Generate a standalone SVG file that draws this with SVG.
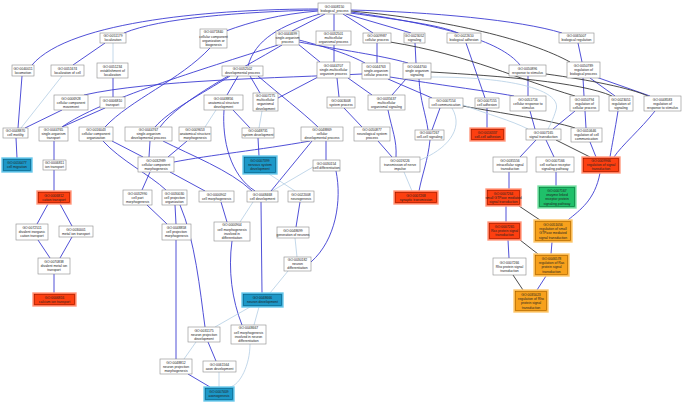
<svg xmlns="http://www.w3.org/2000/svg" width="685" height="403" viewBox="0 0 685 403">
<style>
.n rect{fill:#fff;stroke:#8a8a8a;stroke-width:0.6}
.rd rect{fill:#fd3f10;stroke:#ff9a80;stroke-width:1.4}
.bl rect{fill:#1c98c8;stroke:#6cc8ea;stroke-width:1.4}
.or rect{fill:#f7a11c;stroke:#fcc870;stroke-width:1.4}
.gr rect{fill:#1fc06a;stroke:#7fe0a8;stroke-width:1.4}
rect.in{fill:none !important;stroke-width:0.5 !important}
.rd rect.in{stroke:#8c1800 !important}
.bl rect.in{stroke:#0c5a7a !important}
.or rect.in{stroke:#9a5a00 !important}
.gr rect.in{stroke:#0a6a34 !important}
text{font-family:"Liberation Sans",Arial,sans-serif;font-size:3.4px;fill:#222;text-anchor:middle}
#connectors path{fill:none}
.b{stroke:#3c3cd2;stroke-width:0.9}
.k{stroke:#2c2c2c;stroke-width:0.85}
.l{stroke:#b4cee4;stroke-width:0.8}
</style>
<rect width="685" height="403" fill="#fff"/>
<g id="connectors">
<path class="b" d="M318,9 C220,9 70,20 32,65"/>
<path class="b" d="M318,10 C240,12 160,18 124,33"/>
<path class="b" d="M318,11 C280,14 250,22 226,31"/>
<path class="b" d="M325,14 L292,31"/>
<path class="b" d="M334,14 L334,31"/>
<path class="b" d="M343,14 L373,33"/>
<path class="b" d="M346,14 L411,33"/>
<path class="b" d="M350,13 C400,20 440,25 458,33"/>
<path class="b" d="M351,10 C430,12 520,20 562,33"/>
<path class="b" d="M320,14 C280,25 255,40 248,66"/>
<path class="b" d="M351,12 C440,25 500,40 520,65"/>
<path class="k" d="M351,11 C450,20 530,40 570,62"/>
<path class="b" d="M105,43 L73,65"/>
<path class="l" d="M113,43 L113,63"/>
<path class="b" d="M113,78 L113,97"/>
<path class="b" d="M22,76 L18,128"/>
<path class="l" d="M62,76 L21,128"/>
<path class="b" d="M62,110 L25,128"/>
<path class="b" d="M105,108 L62,127"/>
<path class="b" d="M362,74 C280,78 150,80 84,95"/>
<path class="b" d="M210,48 C180,80 130,100 105,127"/>
<path class="b" d="M278,45 C200,70 100,100 62,127"/>
<path class="b" d="M282,45 C240,70 180,100 160,127"/>
<path class="b" d="M230,76 C200,95 170,110 155,127"/>
<path class="b" d="M238,76 L227,95"/>
<path class="b" d="M250,76 L260,93"/>
<path class="b" d="M258,76 C280,95 300,110 318,127"/>
<path class="b" d="M320,76 L278,98"/>
<path class="b" d="M337,78 L339,97"/>
<path class="b" d="M348,78 L372,95"/>
<path class="l" d="M216,110 L205,127"/>
<path class="b" d="M233,110 L250,128"/>
<path class="b" d="M224,110 C222,140 230,175 255,191"/>
<path class="l" d="M262,111 L259,128"/>
<path class="b" d="M258,138 L259,156"/>
<path class="b" d="M298,44 L320,62"/>
<path class="b" d="M299,40 C330,48 350,55 365,63"/>
<path class="b" d="M299,42 C340,50 380,55 408,63"/>
<path class="b" d="M334,45 L334,62"/>
<path class="b" d="M377,43 L377,63"/>
<path class="b" d="M415,43 L416,63"/>
<path class="b" d="M466,43 L485,98"/>
<path class="b" d="M578,43 L582,62"/>
<path class="b" d="M388,79 L432,98"/>
<path class="b" d="M390,77 C440,85 480,90 514,96"/>
<path class="b" d="M406,79 L392,95"/>
<path class="b" d="M419,79 C420,100 426,115 428,130"/>
<path class="b" d="M440,108 L432,130"/>
<path class="b" d="M487,108 L487,128"/>
<path class="b" d="M528,76 L528,96"/>
<path class="b" d="M583,78 L584,96"/>
<path class="b" d="M590,78 L615,96"/>
<path class="b" d="M596,77 L650,96"/>
<path class="b" d="M344,108 L362,127"/>
<path class="b" d="M388,110 C392,130 397,140 396,157"/>
<path class="b" d="M378,141 L392,157"/>
<path class="b" d="M430,140 C428,160 422,175 419,191"/>
<path class="l" d="M404,172 L412,191"/>
<path class="b" d="M530,111 L535,129"/>
<path class="b" d="M575,111 L553,129"/>
<path class="b" d="M585,111 L586,128"/>
<path class="b" d="M618,111 C615,130 612,145 610,157"/>
<path class="b" d="M655,111 C640,130 622,145 614,157"/>
<path class="b" d="M590,142 L596,157"/>
<path class="b" d="M536,140 L520,157"/>
<path class="b" d="M546,140 L554,157"/>
<path class="k" d="M556,140 L590,157"/>
<path class="b" d="M509,172 L509,189"/>
<path class="b" d="M556,172 L556,186"/>
<path class="b" d="M600,173 C595,200 580,210 568,220"/>
<path class="k" d="M519,206 L540,220"/>
<path class="b" d="M506,206 L506,222"/>
<path class="b" d="M552,242 L551,254"/>
<path class="k" d="M520,240 L538,254"/>
<path class="b" d="M508,240 L509,258"/>
<path class="b" d="M546,276 L537,290"/>
<path class="k" d="M513,275 L523,290"/>
<path class="k" d="M390,42 C470,55 520,80 575,96"/>
<path class="k" d="M431,72 C500,76 580,82 612,96"/>
<path class="k" d="M546,74 C590,80 630,88 648,96"/>
<path class="k" d="M463,106 C500,113 550,120 575,128"/>
<path class="l" d="M452,108 C465,130 445,150 420,160"/>
<path class="l" d="M431,77 C520,77 562,92 556,110 C553,120 550,125 548,129"/>
<path class="l" d="M463,105 C490,115 510,120 528,129"/>
<path class="b" d="M16,138 L17,158"/>
<path class="b" d="M54,141 L54,160"/>
<path class="b" d="M54,170 L54,191"/>
<path class="b" d="M48,204 L37,224"/>
<path class="b" d="M60,204 L72,226"/>
<path class="b" d="M38,240 L50,258"/>
<path class="b" d="M72,237 L60,258"/>
<path class="b" d="M54,274 L54,293"/>
<path class="b" d="M112,141 L143,157"/>
<path class="b" d="M103,141 C120,160 150,175 166,190"/>
<path class="b" d="M150,141 L149,157"/>
<path class="b" d="M163,141 C190,155 230,170 252,191"/>
<path class="b" d="M187,141 L168,157"/>
<path class="b" d="M310,141 C260,150 210,155 174,162"/>
<path class="b" d="M150,172 L142,190"/>
<path class="b" d="M170,172 L205,191"/>
<path class="b" d="M147,205 L167,224"/>
<path class="b" d="M175,205 L176,224"/>
<path class="b" d="M180,205 C195,240 200,290 205,327"/>
<path class="b" d="M221,202 L227,222"/>
<path class="l" d="M253,202 L240,222"/>
<path class="b" d="M312,141 L271,191"/>
<path class="b" d="M326,141 L326,160"/>
<path class="l" d="M313,167 L272,191"/>
<path class="l" d="M269,174 L295,191"/>
<path class="b" d="M336,171 C342,200 336,240 311,262"/>
<path class="b" d="M300,202 L296,227"/>
<path class="l" d="M295,238 L297,257"/>
<path class="b" d="M261,202 L262,293"/>
<path class="l" d="M288,271 L270,293"/>
<path class="b" d="M232,241 C228,270 232,300 242,325"/>
<path class="b" d="M176,240 L176,359"/>
<path class="l" d="M250,307 L215,327"/>
<path class="l" d="M259,307 L254,325"/>
<path class="b" d="M208,342 L216,361"/>
<path class="l" d="M196,342 L184,359"/>
<path class="l" d="M250,344 C250,365 240,385 230,387"/>
<path class="l" d="M219,372 L219,387"/>
<path class="b" d="M188,374 L210,387"/>
</g>
<g id="GO0008150" class="n"><rect x="318" y="3" width="33" height="11"/><text x="334.5" y="7.6">GO:0008150</text><text x="334.5" y="11.8">biological_process</text></g>
<g id="GO0051179" class="n"><rect x="100" y="33" width="26" height="10"/><text x="113" y="37.1">GO:0051179</text><text x="113" y="41.3">localization</text></g>
<g id="GO0071840" class="n"><rect x="200" y="29" width="27" height="19"/><text x="213.5" y="33.4">GO:0071840</text><text x="213.5" y="37.6">cellular component</text><text x="213.5" y="41.8">organization or</text><text x="213.5" y="46">biogenesis</text></g>
<g id="GO0044699" class="n"><rect x="276" y="31" width="23" height="14"/><text x="287.5" y="35">GO:0044699</text><text x="287.5" y="39.2">single-organism</text><text x="287.5" y="43.4">process</text></g>
<g id="GO0032501" class="n"><rect x="316" y="31" width="35" height="14"/><text x="333.5" y="35">GO:0032501</text><text x="333.5" y="39.2">multicellular</text><text x="333.5" y="43.4">organismal process</text></g>
<g id="GO0009987" class="n"><rect x="363" y="33" width="28" height="10"/><text x="377" y="37.1">GO:0009987</text><text x="377" y="41.3">cellular process</text></g>
<g id="GO0023052" class="n"><rect x="404" y="33" width="21" height="10"/><text x="414.5" y="37.1">GO:0023052</text><text x="414.5" y="41.3">signaling</text></g>
<g id="GO0022610" class="n"><rect x="447" y="33" width="34" height="10"/><text x="464" y="37.1">GO:0022610</text><text x="464" y="41.3">biological adhesion</text></g>
<g id="GO0065007" class="n"><rect x="559" y="33" width="35" height="10"/><text x="576.5" y="37.1">GO:0065007</text><text x="576.5" y="41.3">biological regulation</text></g>
<g id="GO0040011" class="n"><rect x="12" y="65" width="22" height="11"/><text x="23" y="69.6">GO:0040011</text><text x="23" y="73.8">locomotion</text></g>
<g id="GO0051674" class="n"><rect x="51" y="65" width="33" height="11"/><text x="67.5" y="69.6">GO:0051674</text><text x="67.5" y="73.8">localization of cell</text></g>
<g id="GO0051234" class="n"><rect x="97" y="63" width="31" height="15"/><text x="112.5" y="67.5">GO:0051234</text><text x="112.5" y="71.7">establishment of</text><text x="112.5" y="75.9">localization</text></g>
<g id="GO0032502" class="n"><rect x="222" y="66" width="41" height="10"/><text x="242.5" y="70.1">GO:0032502</text><text x="242.5" y="74.3">developmental process</text></g>
<g id="GO0044707" class="n"><rect x="317" y="62" width="33" height="16"/><text x="333.5" y="67">GO:0044707</text><text x="333.5" y="71.2">single-multicellular</text><text x="333.5" y="75.4">organism process</text></g>
<g id="GO0044763" class="n"><rect x="362" y="63" width="28" height="16"/><text x="376" y="68">GO:0044763</text><text x="376" y="72.2">single-organism</text><text x="376" y="76.4">cellular process</text></g>
<g id="GO0044700" class="n"><rect x="403" y="63" width="28" height="16"/><text x="417" y="68">GO:0044700</text><text x="417" y="72.2">single organism</text><text x="417" y="76.4">signaling</text></g>
<g id="GO0050896" class="n"><rect x="509" y="65" width="37" height="11"/><text x="527.5" y="69.6">GO:0050896</text><text x="527.5" y="73.8">response to stimulus</text></g>
<g id="GO0050789" class="n"><rect x="567" y="62" width="33" height="16"/><text x="583.5" y="67">GO:0050789</text><text x="583.5" y="71.2">regulation of</text><text x="583.5" y="75.4">biological process</text></g>
<g id="GO0006928" class="n"><rect x="54" y="95" width="34" height="15"/><text x="71" y="99.5">GO:0006928</text><text x="71" y="103.7">cellular component</text><text x="71" y="107.9">movement</text></g>
<g id="GO0006810" class="n"><rect x="100" y="97" width="25" height="11"/><text x="112.5" y="101.6">GO:0006810</text><text x="112.5" y="105.8">transport</text></g>
<g id="GO0048856" class="n"><rect x="204" y="95" width="39" height="15"/><text x="223.5" y="99.5">GO:0048856</text><text x="223.5" y="103.7">anatomical structure</text><text x="223.5" y="107.9">development</text></g>
<g id="GO0007275" class="n"><rect x="253" y="93" width="25" height="18"/><text x="265.5" y="96.9">GO:0007275</text><text x="265.5" y="101.1">multicellular</text><text x="265.5" y="105.3">organismal</text><text x="265.5" y="109.5">development</text></g>
<g id="GO0003008" class="n"><rect x="327" y="97" width="28" height="11"/><text x="341" y="101.6">GO:0003008</text><text x="341" y="105.8">system process</text></g>
<g id="GO0035637" class="n"><rect x="368" y="95" width="37" height="15"/><text x="386.5" y="99.5">GO:0035637</text><text x="386.5" y="103.7">multicellular</text><text x="386.5" y="107.9">organismal signaling</text></g>
<g id="GO0007154" class="n"><rect x="429" y="98" width="34" height="10"/><text x="446" y="102.1">GO:0007154</text><text x="446" y="106.3">cell communication</text></g>
<g id="GO0007155" class="n"><rect x="475" y="98" width="24" height="10"/><text x="487" y="102.1">GO:0007155</text><text x="487" y="106.3">cell adhesion</text></g>
<g id="GO0051716" class="n"><rect x="510" y="96" width="36" height="15"/><text x="528" y="100.5">GO:0051716</text><text x="528" y="104.7">cellular response to</text><text x="528" y="108.9">stimulus</text></g>
<g id="GO0050794" class="n"><rect x="570" y="96" width="29" height="15"/><text x="584.5" y="100.5">GO:0050794</text><text x="584.5" y="104.7">regulation of</text><text x="584.5" y="108.9">cellular process</text></g>
<g id="GO0023051" class="n"><rect x="609" y="96" width="24" height="15"/><text x="621" y="100.5">GO:0023051</text><text x="621" y="104.7">regulation of</text><text x="621" y="108.9">signaling</text></g>
<g id="GO0048583" class="n"><rect x="644" y="96" width="37" height="15"/><text x="662.5" y="100.5">GO:0048583</text><text x="662.5" y="104.7">regulation of</text><text x="662.5" y="108.9">response to stimulus</text></g>
<g id="GO0048870" class="n"><rect x="3" y="128" width="25" height="10"/><text x="15.5" y="132.1">GO:0048870</text><text x="15.5" y="136.3">cell motility</text></g>
<g id="GO0044765" class="n"><rect x="39" y="127" width="29" height="14"/><text x="53.5" y="131">GO:0044765</text><text x="53.5" y="135.2">single-organism</text><text x="53.5" y="139.4">transport</text></g>
<g id="GO0016043" class="n"><rect x="79" y="127" width="34" height="14"/><text x="96" y="131">GO:0016043</text><text x="96" y="135.2">cellular component</text><text x="96" y="139.4">organization</text></g>
<g id="GO0044767" class="n"><rect x="125" y="127" width="47" height="14"/><text x="148.5" y="131">GO:0044767</text><text x="148.5" y="135.2">single-organism</text><text x="148.5" y="139.4">developmental process</text></g>
<g id="GO0009653" class="n"><rect x="179" y="127" width="32" height="14"/><text x="195" y="131">GO:0009653</text><text x="195" y="135.2">anatomical structure</text><text x="195" y="139.4">morphogenesis</text></g>
<g id="GO0048731" class="n"><rect x="242" y="128" width="32" height="10"/><text x="258" y="132.1">GO:0048731</text><text x="258" y="136.3">system development</text></g>
<g id="GO0048869" class="n"><rect x="301" y="127" width="42" height="14"/><text x="322" y="131">GO:0048869</text><text x="322" y="135.2">cellular</text><text x="322" y="139.4">developmental process</text></g>
<g id="GO0050877" class="n"><rect x="354" y="127" width="36" height="14"/><text x="372" y="131">GO:0050877</text><text x="372" y="135.2">neurological system</text><text x="372" y="139.4">process</text></g>
<g id="GO0007267" class="n"><rect x="415" y="130" width="29" height="10"/><text x="429.5" y="134.1">GO:0007267</text><text x="429.5" y="138.3">cell-cell signaling</text></g>
<g id="GO0016337" class="rd"><rect x="470" y="128" width="35" height="13"/><rect class="in" x="471.3" y="129.3" width="32.4" height="10.4"/><text x="487.5" y="133.6">GO:0016337</text><text x="487.5" y="137.8">cell-cell adhesion</text></g>
<g id="GO0007165" class="n"><rect x="526" y="129" width="35" height="11"/><text x="543.5" y="133.6">GO:0007165</text><text x="543.5" y="137.8">signal transduction</text></g>
<g id="GO0010646" class="n"><rect x="571" y="128" width="31" height="14"/><text x="586.5" y="132">GO:0010646</text><text x="586.5" y="136.2">regulation of cell</text><text x="586.5" y="140.4">communication</text></g>
<g id="GO0016477" class="bl"><rect x="2" y="158" width="30" height="14"/><rect class="in" x="3.3" y="159.3" width="27.4" height="11.4"/><text x="17" y="164.1">GO:0016477</text><text x="17" y="168.3">cell migration</text></g>
<g id="GO0006811" class="n"><rect x="43" y="160" width="23" height="10"/><text x="54.5" y="164.1">GO:0006811</text><text x="54.5" y="168.3">ion transport</text></g>
<g id="GO0032989" class="n"><rect x="138" y="157" width="36" height="15"/><text x="156" y="161.5">GO:0032989</text><text x="156" y="165.7">cellular component</text><text x="156" y="169.9">morphogenesis</text></g>
<g id="GO0007399" class="bl"><rect x="243" y="156" width="34" height="18"/><rect class="in" x="244.3" y="157.3" width="31.4" height="15.4"/><text x="260" y="162">GO:0007399</text><text x="260" y="166.2">nervous system</text><text x="260" y="170.4">development</text></g>
<g id="GO0030154" class="n"><rect x="313" y="160" width="27" height="11"/><text x="326.5" y="164.6">GO:0030154</text><text x="326.5" y="168.8">cell differentiation</text></g>
<g id="GO0019226" class="n"><rect x="380" y="157" width="40" height="15"/><text x="400" y="161.5">GO:0019226</text><text x="400" y="165.7">transmission of nerve</text><text x="400" y="169.9">impulse</text></g>
<g id="GO0035556" class="n"><rect x="493" y="157" width="34" height="15"/><text x="510" y="161.5">GO:0035556</text><text x="510" y="165.7">intracellular signal</text><text x="510" y="169.9">transduction</text></g>
<g id="GO0007166" class="n"><rect x="536" y="157" width="38" height="15"/><text x="555" y="161.5">GO:0007166</text><text x="555" y="165.7">cell surface receptor</text><text x="555" y="169.9">signaling pathway</text></g>
<g id="GO0009966" class="rd"><rect x="582" y="157" width="38" height="16"/><rect class="in" x="583.3" y="158.3" width="35.4" height="13.4"/><text x="601" y="162">GO:0009966</text><text x="601" y="166.2">regulation of signal</text><text x="601" y="170.4">transduction</text></g>
<g id="GO0006812" class="rd"><rect x="37" y="191" width="34" height="13"/><rect class="in" x="38.3" y="192.3" width="31.4" height="10.4"/><text x="54" y="196.6">GO:0006812</text><text x="54" y="200.8">cation transport</text></g>
<g id="GO0032990" class="n"><rect x="123" y="190" width="29" height="15"/><text x="137.5" y="194.5">GO:0032990</text><text x="137.5" y="198.7">cell part</text><text x="137.5" y="202.9">morphogenesis</text></g>
<g id="GO0030030" class="n"><rect x="162" y="190" width="25" height="15"/><text x="174.5" y="194.5">GO:0030030</text><text x="174.5" y="198.7">cell projection</text><text x="174.5" y="202.9">organization</text></g>
<g id="GO0000902" class="n"><rect x="199" y="191" width="35" height="11"/><text x="216.5" y="195.6">GO:0000902</text><text x="216.5" y="199.8">cell morphogenesis</text></g>
<g id="GO0048468" class="n"><rect x="247" y="191" width="31" height="11"/><text x="262.5" y="195.6">GO:0048468</text><text x="262.5" y="199.8">cell development</text></g>
<g id="GO0022008" class="n"><rect x="288" y="191" width="26" height="11"/><text x="301" y="195.6">GO:0022008</text><text x="301" y="199.8">neurogenesis</text></g>
<g id="GO0007268" class="rd"><rect x="394" y="191" width="44" height="13"/><rect class="in" x="395.3" y="192.3" width="41.4" height="10.4"/><text x="416" y="196.6">GO:0007268</text><text x="416" y="200.8">synaptic transmission</text></g>
<g id="GO0007264" class="rd"><rect x="486" y="189" width="35" height="17"/><rect class="in" x="487.3" y="190.3" width="32.4" height="14.4"/><text x="503.5" y="194.5">GO:0007264</text><text x="503.5" y="198.7">small GTPase mediated</text><text x="503.5" y="202.9">signal transduction</text></g>
<g id="GO0007167" class="gr"><rect x="538" y="186" width="38" height="22"/><rect class="in" x="539.3" y="187.3" width="35.4" height="19.4"/><text x="557" y="191.9">GO:0007167</text><text x="557" y="196.1">enzyme linked</text><text x="557" y="200.3">receptor protein</text><text x="557" y="204.5">signaling pathway</text></g>
<g id="GO0072511" class="n"><rect x="16" y="224" width="32" height="16"/><text x="32" y="229">GO:0072511</text><text x="32" y="233.2">divalent inorganic</text><text x="32" y="237.4">cation transport</text></g>
<g id="GO0030001" class="n"><rect x="59" y="226" width="34" height="11"/><text x="76" y="230.6">GO:0030001</text><text x="76" y="234.8">metal ion transport</text></g>
<g id="GO0048858" class="n"><rect x="162" y="224" width="29" height="16"/><text x="176.5" y="229">GO:0048858</text><text x="176.5" y="233.2">cell projection</text><text x="176.5" y="237.4">morphogenesis</text></g>
<g id="GO0000904" class="n"><rect x="214" y="222" width="36" height="19"/><text x="232" y="226.4">GO:0000904</text><text x="232" y="230.6">cell morphogenesis</text><text x="232" y="234.8">involved in</text><text x="232" y="239">differentiation</text></g>
<g id="GO0048699" class="n"><rect x="277" y="227" width="32" height="11"/><text x="293" y="231.6">GO:0048699</text><text x="293" y="235.8">generation of neurons</text></g>
<g id="GO0007265" class="rd"><rect x="488" y="222" width="33" height="18"/><rect class="in" x="489.3" y="223.3" width="30.4" height="15.4"/><text x="504.5" y="228">GO:0007265</text><text x="504.5" y="232.2">Ras protein signal</text><text x="504.5" y="236.4">transduction</text></g>
<g id="GO0051056" class="or"><rect x="534" y="220" width="38" height="22"/><rect class="in" x="535.3" y="221.3" width="35.4" height="19.4"/><text x="553" y="225.9">GO:0051056</text><text x="553" y="230.1">regulation of small</text><text x="553" y="234.3">GTPase mediated</text><text x="553" y="238.5">signal transduction</text></g>
<g id="GO0070838" class="n"><rect x="38" y="258" width="32" height="16"/><text x="54" y="263">GO:0070838</text><text x="54" y="267.2">divalent metal ion</text><text x="54" y="271.4">transport</text></g>
<g id="GO0030182" class="n"><rect x="284" y="257" width="27" height="14"/><text x="297.5" y="261">GO:0030182</text><text x="297.5" y="265.2">neuron</text><text x="297.5" y="269.4">differentiation</text></g>
<g id="GO0007266" class="n"><rect x="493" y="258" width="33" height="17"/><text x="509.5" y="263.5">GO:0007266</text><text x="509.5" y="267.7">Rho protein signal</text><text x="509.5" y="271.9">transduction</text></g>
<g id="GO0046578" class="or"><rect x="534" y="254" width="35" height="22"/><rect class="in" x="535.3" y="255.3" width="32.4" height="19.4"/><text x="551.5" y="259.9">GO:0046578</text><text x="551.5" y="264.1">regulation of Ras</text><text x="551.5" y="268.3">protein signal</text><text x="551.5" y="272.5">transduction</text></g>
<g id="GO0006816" class="rd"><rect x="33" y="293" width="43" height="13"/><rect class="in" x="34.3" y="294.3" width="40.4" height="10.4"/><text x="54.5" y="298.6">GO:0006816</text><text x="54.5" y="302.8">calcium ion transport</text></g>
<g id="GO0048666" class="bl"><rect x="242" y="293" width="41" height="14"/><rect class="in" x="243.3" y="294.3" width="38.4" height="11.4"/><text x="262.5" y="299.1">GO:0048666</text><text x="262.5" y="303.3">neuron development</text></g>
<g id="GO0035023" class="or"><rect x="514" y="290" width="34" height="22"/><rect class="in" x="515.3" y="291.3" width="31.4" height="19.4"/><text x="531" y="295.9">GO:0035023</text><text x="531" y="300.1">regulation of Rho</text><text x="531" y="304.3">protein signal</text><text x="531" y="308.5">transduction</text></g>
<g id="GO0031175" class="n"><rect x="188" y="327" width="32" height="15"/><text x="204" y="331.5">GO:0031175</text><text x="204" y="335.7">neuron projection</text><text x="204" y="339.9">development</text></g>
<g id="GO0048667" class="n"><rect x="231" y="325" width="35" height="19"/><text x="248.5" y="329.4">GO:0048667</text><text x="248.5" y="333.6">cell morphogenesis</text><text x="248.5" y="337.8">involved in neuron</text><text x="248.5" y="342">differentiation</text></g>
<g id="GO0048812" class="n"><rect x="160" y="359" width="32" height="15"/><text x="176" y="363.5">GO:0048812</text><text x="176" y="367.7">neuron projection</text><text x="176" y="371.9">morphogenesis</text></g>
<g id="GO0061564" class="n"><rect x="203" y="361" width="33" height="11"/><text x="219.5" y="365.6">GO:0061564</text><text x="219.5" y="369.8">axon development</text></g>
<g id="GO0007409" class="bl"><rect x="204" y="387" width="30" height="14"/><rect class="in" x="205.3" y="388.3" width="27.4" height="11.4"/><text x="219" y="393.1">GO:0007409</text><text x="219" y="397.3">axonogenesis</text></g>
</svg>
